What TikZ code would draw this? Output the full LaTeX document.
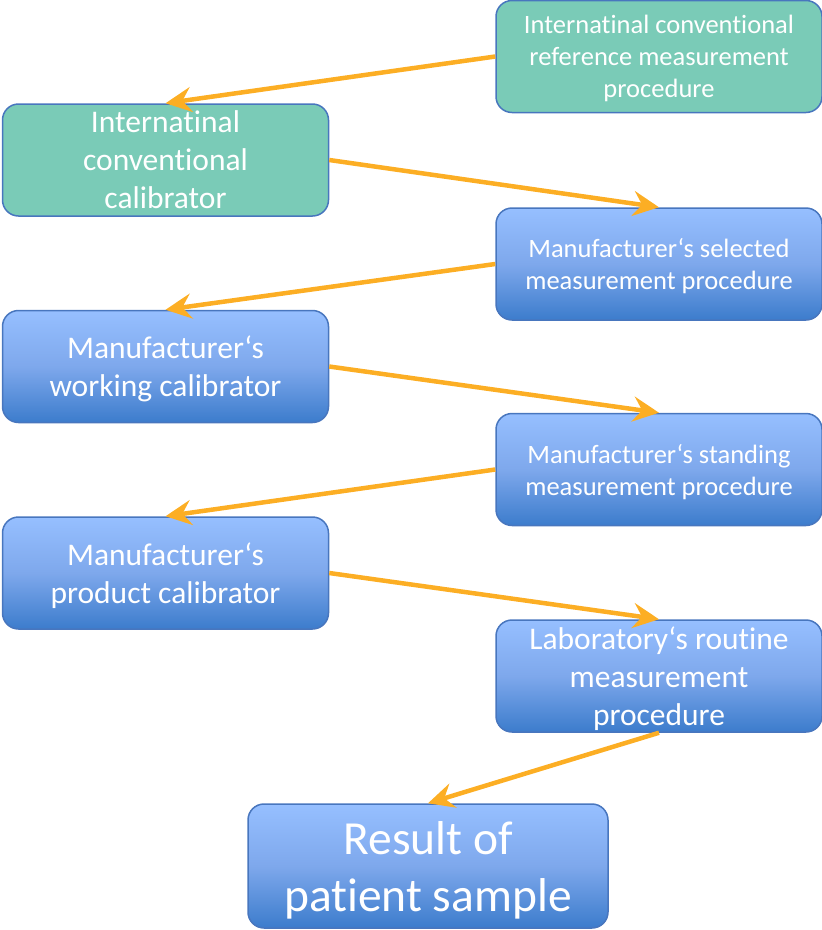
\documentclass[tikz,border=0pt]{standalone}
\usepackage{fontspec}
\setmainfont{Carlito}[Ligatures=NoCommon, Contextuals=NoAlternate]
\usetikzlibrary{arrows.meta}
\definecolor{tealbox}{RGB}{122,203,183}
\definecolor{boxline}{RGB}{72,118,190}
\definecolor{bluetop}{RGB}{150,191,255}
\definecolor{bluemid}{RGB}{126,168,236}
\definecolor{bluebot}{RGB}{60,124,204}
\definecolor{arrowor}{RGB}{252,174,36}
\tikzset{
	box/.style={draw=boxline, line width=1.5pt, rounded corners=16pt, text=white, align=center, text depth=0pt, minimum width=326pt, minimum height=112pt, inner sep=0pt},
	tealbox/.style={box, fill=tealbox},
	bluebox/.style={box, top color=bluetop, bottom color=bluebot, middle color=bluemid},
	smalltext/.style={font=\fontsize{26.5}{32}\selectfont},
	midtext/.style={font=\fontsize{31.5}{38}\selectfont},
	bigtext/.style={font=\fontsize{47.5}{57}\selectfont},
	flow/.style={draw=arrowor, line width=4.5pt, -{Stealth[length=26pt,width=25pt,inset=9pt]}}
}

\begin{document}
\begin{tikzpicture}[x=1pt, y=-1pt]
			%%%%% START %%%%%
			
			\useasboundingbox (0, 0) rectangle (822, 930);
			
			\node[tealbox, smalltext] (refproc) at (659, 56.5) {Internatinal conventional\\reference measurement\\procedure};
			\node[tealbox, midtext] (refcal) at (165.5, 160) {Internatinal\\conventional\\calibrator};
			
			\node[bluebox, smalltext] (selproc) at (659, 264) {Manufacturer‘s selected\\measurement procedure};
			\node[bluebox, midtext] (workcal) at (165.5, 366.5) {Manufacturer‘s\\working calibrator};
			
			\node[bluebox, smalltext] (standproc) at (659, 469.5) {Manufacturer‘s standing\\measurement procedure};
			\node[bluebox, midtext] (prodcal) at (165.5, 573) {Manufacturer‘s\\product calibrator};
			
			\node[bluebox, midtext] (labproc) at (659, 676) {Laboratory‘s routine\\measurement\\procedure};
			\node[bluebox, bigtext, minimum width=360pt, minimum height=124pt] (result) at (428, 866) {Result of\\patient sample};
			
			\draw[flow] (refproc.west) -- (refcal.north);
			\draw[flow] (refcal.east) -- (selproc.north);
			\draw[flow] (selproc.west) -- (workcal.north);
			\draw[flow] (workcal.east) -- (standproc.north);
			\draw[flow] (standproc.west) -- (prodcal.north);
			\draw[flow] (prodcal.east) -- (labproc.north);
			\draw[flow] (labproc.south) -- (result.north);
			
			%%%%% END %%%%%
\end{tikzpicture}
\end{document}
